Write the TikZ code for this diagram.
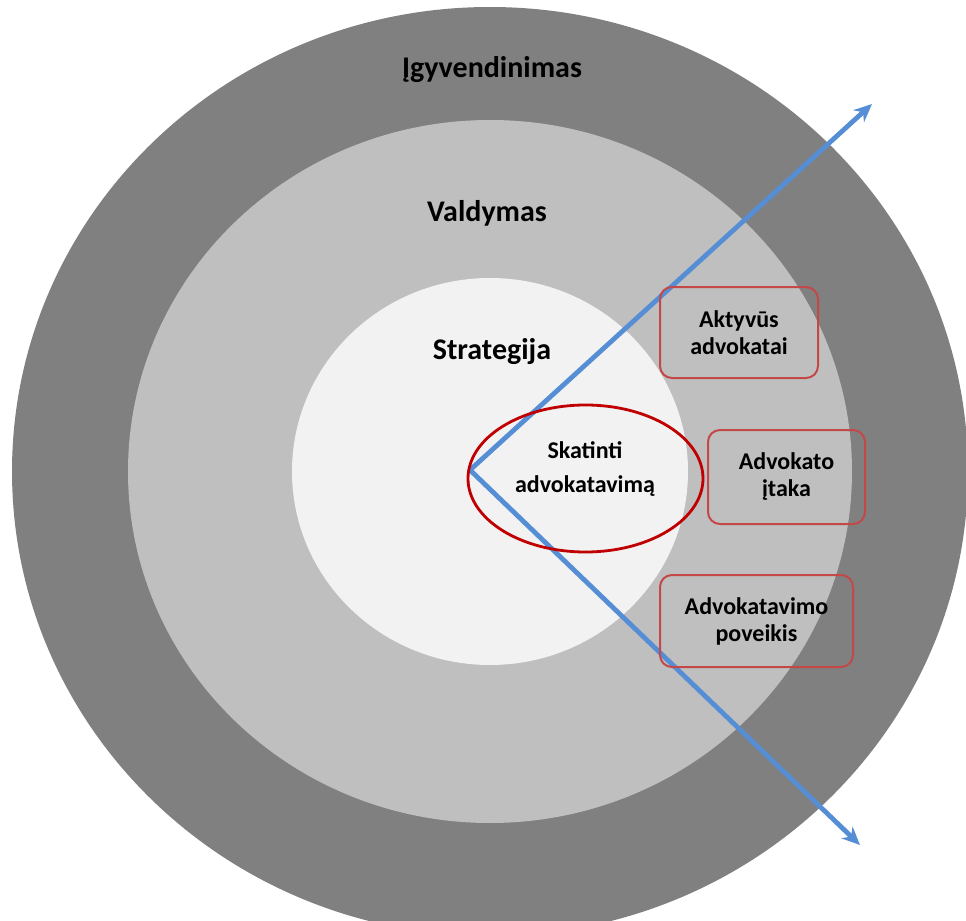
\documentclass[tikz,border=0pt]{standalone}
\usepackage{fontspec}
\setmainfont{Carlito}
\usetikzlibrary{positioning, arrows.meta, shapes.geometric, backgrounds}

\definecolor{ringdark}{RGB}{128,128,128}
\definecolor{ringmid}{RGB}{191,191,191}
\definecolor{ringlight}{RGB}{242,242,242}
\definecolor{arrowblue}{RGB}{85,142,213}
\definecolor{hubred}{RGB}{192,0,0}
\definecolor{boxred}{RGB}{196,72,72}

\begin{document}
\begin{tikzpicture}[
    x=0.5pt, y=-0.5pt,
    ringlabel/.style={font=\fontsize{15}{17}\selectfont\bfseries, text=black},
    hub/.style={ellipse, draw=hubred, line width=1.4pt, minimum width=117.5pt,
                minimum height=73.5pt, inner sep=0pt},
    hubtext/.style={font=\fontsize{12}{17}\selectfont\bfseries, align=center},
    result/.style={rectangle, rounded corners=6pt, draw=boxred, line width=1pt,
                   align=center, font=\fontsize{12}{13.5}\selectfont\bfseries,
                   inner sep=0pt},
    arrow/.style={-{Stealth[length=9pt, width=8pt]}, draw=arrowblue, line width=2.4pt}
]
\clip (0,0) rectangle (966,921);

% rings
\fill[ringdark]  (490,471.5) ellipse [x radius=239pt, y radius=232.25pt];
\fill[ringmid]   (490,471.5) ellipse [x radius=181pt, y radius=175.75pt];
\fill[ringlight] (490,471.5) ellipse [x radius=99pt, y radius=96.75pt];

\node[ringlabel] (impl)  at (492,70)  {Įgyvendinimas};
\node[ringlabel] (mgmt)  at (487,213) {Valdymas};
\node[ringlabel] (strat) at (492,352) {Strategija};

% arrows out of the hub
\coordinate (apex) at (470,470);
\coordinate (tipup) at (872,104);
\coordinate (tipdown) at (860,845);
\draw[arrow] (apex) -- (tipup);
\draw[arrow] (apex) -- (tipdown);

\node[hub] (hub) at (585.5,478.5) {};
\node[hubtext] (hublabel) at (585,469) {Skatinti\\advokatavimą};

\node[result, minimum width=79pt, minimum height=45.5pt] (active) at (739,332.5)
     {Aktyvūs\\advokatai};
\node[result, minimum width=78.5pt, minimum height=47pt] (influence) at (786.5,477)
     {Advokato\\įtaka};
\node[result, minimum width=96.5pt, minimum height=46pt] (impact) at (756.5,621)
     {Advokatavimo\\poveikis};
\end{tikzpicture}
\end{document}
